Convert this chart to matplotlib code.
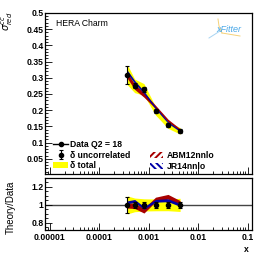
import matplotlib
matplotlib.use("Agg")
import matplotlib.pyplot as plt
import numpy as np
from matplotlib.lines import Line2D
from matplotlib.patches import Patch
from matplotlib.ticker import FixedLocator, FixedFormatter, LogLocator, NullFormatter, MultipleLocator

plt.rcParams['font.family'] = ['Liberation Sans', 'DejaVu Sans']
plt.rcParams['hatch.linewidth'] = 1.4

# ---- data ----
x = [0.00037, 0.00052, 0.0008, 0.00137, 0.00245, 0.0043]
data = [0.309, 0.275, 0.264, 0.198, 0.154, 0.136]
unc = [0.028, 0.008, 0.009, 0.006, 0.005, 0.005]
tot = [0.031, 0.021, 0.018, 0.013, 0.010, 0.010]
abm = [0.307, 0.272, 0.247, 0.210, 0.168, 0.139]
abm_err = [0.009, 0.008, 0.007, 0.005, 0.004, 0.0035]
jr = [0.318, 0.287, 0.255, 0.207, 0.162, 0.136]
jr_err = [0.005, 0.0045, 0.004, 0.003, 0.0025, 0.0022]

xticks = [0.00001, 0.0001, 0.001, 0.01, 0.1]
xticklabels = ["0.00001", "0.0001", "0.001", "0.01", "0.1"]
yticks = [0.05, 0.1, 0.15, 0.2, 0.25, 0.3, 0.35, 0.4, 0.45, 0.5]
yticklabels = ["0.05", "0.1", "0.15", "0.2", "0.25", "0.3", "0.35", "0.4", "0.45", "0.5"]
rticks = [0.8, 1.0, 1.2]
rticklabels = ["0.8", "1", "1.2"]

RED = '#a80000'
BLUE = '#0000a8'
YEL = '#ffff00'
FS = 6.2

x_a = np.array(x); d = np.array(data); u = np.array(unc); t = np.array(tot)
a = np.array(abm); ae = np.array(abm_err); j = np.array(jr); je = np.array(jr_err)

fig = plt.figure(figsize=(2.66, 2.58), dpi=100)
W, H = 266, 258
ax1 = fig.add_axes([45 / W, 1 - 174 / H, 207 / W, 161 / H])
ax2 = fig.add_axes([45 / W, 1 - 230 / H, 207 / W, 52 / H])

# top panel
ax1.fill_between(x_a, d - t, d + t, color=YEL, lw=0, zorder=1)
ax1.fill_between(x_a, a - ae, a + ae, color=RED, lw=0, zorder=2)
ax1.fill_between(x_a, j - je, j + je, color=BLUE, lw=0, zorder=3)
eb = ax1.errorbar(x_a, d, yerr=u, fmt='o', color='k', ms=3, capsize=1.5, elinewidth=0.8, capthick=0.8, zorder=5)

# ratio panel
ax2.axhline(1.0, color='#444444', lw=1, zorder=0)
ax2.fill_between(x_a, 1 - t / d, 1 + t / d, color=YEL, lw=0, zorder=1)
ax2.fill_between(x_a, (a - ae) / d, (a + ae) / d, color=RED, lw=0, zorder=2)
ax2.fill_between(x_a, (j - je) / d, (j + je) / d, color=BLUE, lw=0, zorder=3)
ax2.errorbar(x_a, np.ones_like(d), yerr=u / d, fmt='o', color='k', ms=3, capsize=1.5, elinewidth=0.8, capthick=0.8, zorder=5)

for ax in (ax1, ax2):
    ax.set_xscale('log')
    ax.set_xlim(8e-6, 0.122)
    ax.tick_params(which='both', direction='in', top=False, right=False, width=0.6)
    ax.tick_params(which='major', length=5)
    ax.tick_params(which='minor', length=2.5)
    ax.xaxis.set_major_locator(FixedLocator(xticks))
    ax.xaxis.set_minor_locator(LogLocator(base=10, subs=np.arange(2, 10), numticks=20))
    ax.xaxis.set_minor_formatter(NullFormatter())
    for s in ax.spines.values():
        s.set_linewidth(0.9)

ax1.set_ylim(0.003, 0.5)
ax1.yaxis.set_major_locator(FixedLocator(yticks))
ax1.yaxis.set_major_formatter(FixedFormatter(yticklabels))
ax1.yaxis.set_minor_locator(MultipleLocator(0.01))
ax1.xaxis.set_major_formatter(NullFormatter())
for lab in ax1.get_yticklabels():
    lab.set_fontsize(FS); lab.set_fontweight('bold')
ax1.tick_params(axis='y', pad=1)

ax2.set_ylim(0.72, 1.3)
ax2.yaxis.set_major_locator(FixedLocator(rticks))
ax2.yaxis.set_major_formatter(FixedFormatter(rticklabels))
ax2.yaxis.set_minor_locator(MultipleLocator(0.05))
ax2.xaxis.set_major_formatter(FixedFormatter(xticklabels))
for lab in ax2.get_yticklabels() + ax2.get_xticklabels():
    lab.set_fontsize(FS); lab.set_fontweight('bold')
ax2.tick_params(axis='y', pad=1)
ax2.tick_params(axis='x', pad=2)

# texts
fig.text(56 / W, 1 - 23 / H, "HERA Charm", fontsize=FS, va='center', ha='left')
fig.text(7 / W, 1 - 21 / H, r'$\sigma^{cc}_{red}$', rotation=90, fontsize=7, ha='center', va='center')
fig.text(11 / W, 1 - 207 / H, "Theory/Data", rotation=90, fontsize=7, ha='center', va='center')
fig.text(246 / W, 1 - 250 / H, "x", fontsize=FS, fontweight='bold', ha='center', va='center')

# xFitter logo
fig.text(229 / W, 1 - 30 / H, "xFitter", fontsize=6.5, style='italic', color='#4aa8e8', ha='center', va='center')
fig.add_artist(Line2D([209 / W, 220 / W], [1 - 38 / H, 1 - 31 / H], color='#a8d4f2', lw=0.7))
fig.add_artist(Line2D([218 / W, 219 / W, 222 / W], [1 - 19 / H, 1 - 26 / H, 1 - 33 / H], color='#f5d27a', lw=0.7))
fig.add_artist(Line2D([222 / W, 240 / W], [1 - 33 / H, 1 - 36 / H], color='#f5d27a', lw=0.7))

# legends
h_data = Line2D([], [], color='k', marker='o', ms=3, lw=1)
h_tot = Patch(facecolor=YEL, edgecolor='none')
leg1 = ax1.legend([h_data, eb, h_tot], ["Data Q2 = 18", "δ uncorrelated", "δ total"],
                  loc='upper left', bbox_to_anchor=(0.039, 0.213), frameon=False,
                  borderpad=0, borderaxespad=0, handlelength=1.74, handletextpad=0.25,
                  labelspacing=0.22, prop={'size': FS, 'weight': 'bold'})
ax1.add_artist(leg1)
h_abm = Patch(facecolor='none', edgecolor=RED, hatch='/////', lw=0)
h_jr = Patch(facecolor='none', edgecolor=BLUE, hatch='\\\\\\\\\\', lw=0)
ax1.legend([h_abm, h_jr], ["ABM12nnlo", "JR14nnlo"],
           loc='upper left', bbox_to_anchor=(0.506, 0.145), frameon=False,
           borderpad=0, borderaxespad=0, handlelength=1.55, handletextpad=0.38,
           labelspacing=0.22, prop={'size': FS, 'weight': 'bold'})

fig.savefig("out.png", dpi=100)
